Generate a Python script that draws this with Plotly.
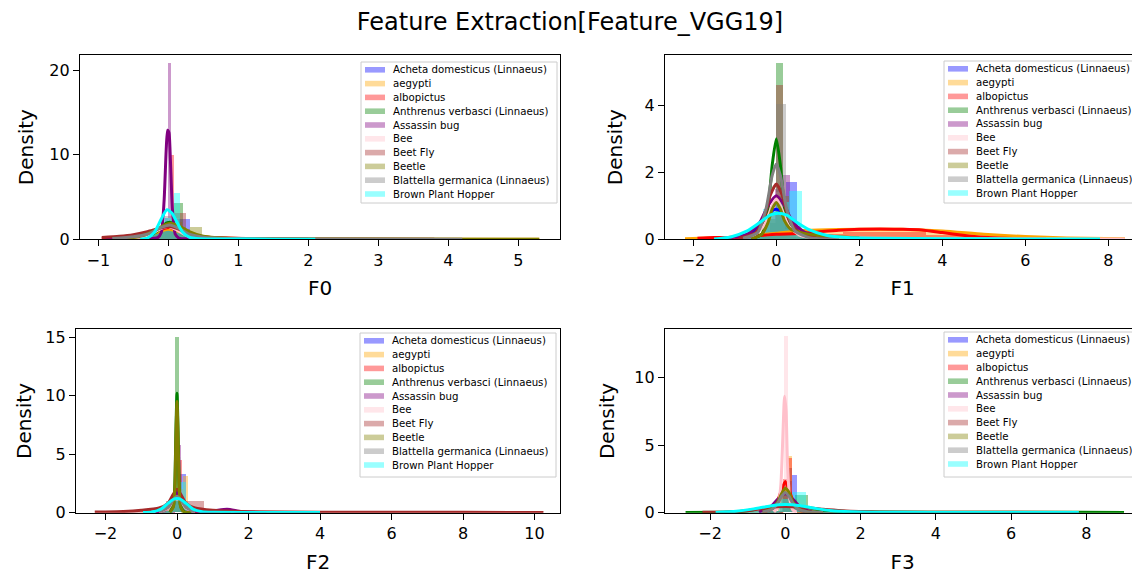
import plotly.graph_objects as go

# page body has an 8px margin: the figure is sized/positioned to compensate
OFF = 8
W, H = 1140 - OFF, 576 - OFF

classes = ["Acheta domesticus (Linnaeus)", "aegypti", "albopictus",
           "Anthrenus verbasci (Linnaeus)", "Assassin bug", "Bee", "Beet Fly",
           "Beetle", "Blattella germanica (Linnaeus)", "Brown Plant Hopper"]
colors = ["#0000ff", "#ffa500", "#ff0000", "#008000", "#800080",
          "#ffc0cb", "#a52a2a", "#808000", "#808080", "#00ffff"]
features = ["F0", "F1", "F2", "F3"]

# ---------------- F0 ----------------
F0_edges = [
    [-0.9, -0.26, -0.07, 0.12, 0.31, 0.5, 2.0],
    [-0.8, -0.2, 0.0, 0.2, 0.4, 5.3],
    [-0.9, -0.3, -0.1, 0.034, 0.08, 0.3, 2.0],
    [-0.5, -0.18, -0.05, 0.08, 0.21, 0.34, 1.5],
    [-0.9, -0.05, -0.01, 0.034, 0.08, 1.0],
    [-0.6, -0.15, 0.0, 0.15, 0.4],
    [-0.95, -0.22, -0.06, 0.1, 0.26, 0.42, 3.8],
    [-0.54, -0.37, -0.2, -0.03, 0.14, 0.31, 0.48, 5.3],
    [-0.8, -0.2, -0.05, 0.1, 0.25, 0.4, 4.2],
    [-0.4, -0.28, -0.1, 0.08, 0.17, 0.26, 2.1],
]
F0_heights = [
    [0.12, 0.8, 1.6, 2.4, 0.4, 0.1],
    [0.1, 1.0, 2.0, 0.5, 0.08],
    [0.18, 0.5, 1.5, 10.0, 0.6, 0.1],
    [0.1, 1.0, 2.2, 4.3, 0.6, 0.1],
    [0.05, 2.5, 20.8, 1.0, 0.08],
    [0.1, 1.5, 2.5, 0.4],
    [0.2, 1.0, 1.8, 3.1, 0.4, 0.12],
    [0.3, 0.6, 1.3, 1.4, 1.2, 1.4, 0.12],
    [0.15, 1.0, 2.8, 1.5, 0.4, 0.12],
    [0.1, 0.6, 2.5, 5.5, 0.8, 0.08],
]
F0_kde_x = [
    [-0.9, -0.5, -0.3, -0.15, 0, 0.15, 0.3, 0.5, 1, 2],
    [-0.9, -0.5, -0.25, 0, 0.25, 0.5, 1, 2, 3.5, 5.3],
    [-0.95, -0.6, -0.3, -0.1, 0.02, 0.15, 0.3, 0.6, 1.2, 2.0],
    [-0.5, -0.3, -0.15, -0.05, 0.03, 0.12, 0.25, 0.4, 0.7, 1.5],
    [-0.9, -0.3, -0.15, -0.1, -0.06, -0.03, -0.01, 0.01, 0.03, 0.06, 0.1, 0.15, 0.3, 1.0],
    [-0.6, -0.3, -0.1, 0, 0.1, 0.3, 0.6],
    [-0.95, -0.7, -0.5, -0.3, -0.1, 0.02, 0.15, 0.3, 0.6, 1.5, 3.8],
    [-0.6, -0.4, -0.2, -0.05, 0.03, 0.15, 0.3, 0.5, 0.8, 2, 5.3],
    [-0.8, -0.5, -0.3, -0.1, 0.02, 0.15, 0.3, 0.5, 1, 2.5, 4.2],
    [-0.4, -0.3, -0.2, -0.1, -0.02, 0.05, 0.1, 0.2, 0.3, 0.45, 0.8, 1.5, 2.1],
]
F0_kde_y = [
    [0.05, 0.2, 0.5, 1.1, 1.6, 1.2, 0.6, 0.25, 0.08, 0.02],
    [0.05, 0.2, 0.6, 1.2, 0.7, 0.3, 0.1, 0.04, 0.02, 0.01],
    [0.1, 0.3, 0.7, 1.2, 1.4, 1.1, 0.6, 0.2, 0.06, 0.02],
    [0.05, 0.3, 1.0, 1.8, 2.0, 1.6, 0.7, 0.2, 0.05, 0.02],
    [0.02, 0.05, 0.2, 0.8, 4.5, 10.5, 12.9, 12.6, 9.5, 3.5, 0.6, 0.15, 0.05, 0.02],
    [0.05, 0.4, 1.3, 1.5, 1.2, 0.3, 0.05],
    [0.2, 0.35, 0.55, 0.9, 1.35, 1.5, 1.2, 0.6, 0.2, 0.05, 0.02],
    [0.1, 0.35, 1.0, 1.7, 1.9, 1.6, 0.9, 0.35, 0.12, 0.04, 0.01],
    [0.1, 0.3, 0.6, 1.4, 1.7, 1.3, 0.6, 0.25, 0.08, 0.03, 0.01],
    [0.02, 0.15, 0.8, 2.4, 3.5, 3.1, 2.4, 0.9, 0.25, 0.06, 0.03, 0.02, 0.01],
]

# ---------------- F1 ----------------
F1_edges = [
    [-1.0, -0.28, -0.02, 0.24, 0.5, 0.76, 2.0],
    [-2.2, -1.2, -0.2, 0.8, 1.8, 2.8, 3.8, 4.8, 5.8, 6.8, 7.8, 8.4],
    [-1.96, -1.56, -0.2, 0.26, 0.6, 1.6, 2.6, 3.6, 4.6, 5.6],
    [-0.48, -0.16, 0.0, 0.16, 0.32, 0.48, 1.5],
    [-1.0, -0.2, -0.02, 0.16, 0.34, 0.52, 1.5],
    [-0.6, -0.2, 0.0, 0.2, 0.6, 7.8, 8.4],
    [-0.9, -0.16, 0.0, 0.16, 0.32, 1.5],
    [-0.6, -0.3, 0.0, 0.3, 0.6, 2.0],
    [-0.9, -0.24, 0.0, 0.24, 0.48, 1.5],
    [-1.5, -0.31, 0.0, 0.31, 0.62, 0.93, 7.8],
]
F1_heights = [
    [0.08, 0.5, 1.3, 1.72, 0.3, 0.05],
    [0.03, 0.08, 0.2, 0.3, 0.32, 0.3, 0.2, 0.12, 0.06, 0.03, 0.05],
    [0.08, 0, 0.15, 0.05, 0.15, 0.22, 0.22, 0.12, 0.04],
    [0.1, 0.5, 5.25, 0.5, 0.3, 0.05],
    [0.08, 0.6, 1.5, 1.92, 0.5, 0.08],
    [0.1, 1.0, 1.4, 0.3, 0, 0.08],
    [0.08, 0.8, 4.6, 0.6, 0.08],
    [0.1, 0.6, 1.3, 0.4, 0.08],
    [0.06, 0.8, 4.04, 0.4, 0.06],
    [0.08, 0.9, 1.1, 1.45, 0.3, 0.04],
]
F1_kde_x = [
    [-1.0, -0.6, -0.3, -0.1, 0, 0.15, 0.35, 0.6, 1.0, 1.8],
    [-2.2, -1.2, -0.5, 0, 0.5, 1.0, 2.0, 3.0, 4.0, 5.0, 6.0, 7.0, 8.4],
    [-1.9, -1.5, -1.0, -0.5, 0, 0.5, 1.0, 1.5, 2.0, 2.5, 3.0, 3.5, 4.0, 4.5, 5.0, 5.5, 6.5],
    [-0.6, -0.35, -0.2, -0.1, 0, 0.1, 0.2, 0.3, 0.45, 0.6, 0.9, 1.5],
    [-1.2, -0.7, -0.4, -0.2, 0, 0.2, 0.4, 0.7, 1.2, 2.0],
    [-0.6, -0.3, -0.1, 0, 0.1, 0.3, 0.6, 2, 5, 8.4],
    [-0.9, -0.5, -0.3, -0.15, 0, 0.15, 0.3, 0.5, 0.9, 1.5],
    [-0.6, -0.35, -0.2, -0.1, 0, 0.1, 0.2, 0.35, 0.6, 1.0, 2.0],
    [-0.8, -0.45, -0.25, -0.1, 0, 0.1, 0.25, 0.45, 0.8, 1.5],
    [-1.5, -1.1, -0.7, -0.4, -0.15, 0.05, 0.25, 0.5, 0.8, 1.2, 1.7, 2.5, 4, 6, 7.8],
]
F1_kde_y = [
    [0.03, 0.2, 0.55, 0.85, 0.9, 0.8, 0.45, 0.2, 0.07, 0.02],
    [0.02, 0.05, 0.12, 0.18, 0.25, 0.28, 0.3, 0.3, 0.25, 0.15, 0.08, 0.04, 0.02],
    [0.03, 0.05, 0.06, 0.1, 0.15, 0.17, 0.22, 0.27, 0.3, 0.31, 0.3, 0.28, 0.2, 0.12, 0.06, 0.03, 0.01],
    [0.02, 0.15, 0.9, 2.2, 3.0, 2.2, 0.9, 0.45, 0.3, 0.15, 0.05, 0.02],
    [0.03, 0.15, 0.5, 1.0, 1.3, 1.0, 0.5, 0.2, 0.08, 0.03],
    [0.05, 0.4, 1.0, 1.2, 1.0, 0.4, 0.1, 0.03, 0.02, 0.01],
    [0.03, 0.2, 0.6, 1.3, 1.65, 1.3, 0.6, 0.25, 0.06, 0.02],
    [0.02, 0.15, 0.5, 0.9, 1.1, 0.9, 0.55, 0.3, 0.2, 0.12, 0.04],
    [0.03, 0.2, 0.9, 1.9, 2.25, 1.9, 0.9, 0.25, 0.05, 0.01],
    [0.01, 0.07, 0.25, 0.5, 0.72, 0.78, 0.72, 0.5, 0.28, 0.12, 0.05, 0.03, 0.02, 0.01, 0.01],
]

# ---------------- F2 ----------------
F2_edges = [
    [-0.5, -0.1, 0.07, 0.24, 0.41, 1.5],
    [-0.5, -0.1, 0.04, 0.18, 0.32, 0.46, 1.5],
    [-0.6, -0.06, 0.04, 0.14, 0.24, 1.5],
    [-0.5, -0.15, -0.05, 0.05, 0.15, 0.25, 1.5],
    [-0.6, -0.05, 0.02, 0.1, 0.18, 1.2, 1.6, 2.2],
    [-0.4, -0.1, 0.1, 0.4],
    [-2.3, -0.3, 0.2, 0.75, 4.0, 10.25],
    [-0.3, -0.12, -0.04, 0.04, 0.12, 0.3],
    [-0.4, -0.1, 0.1, 0.4],
    [-0.95, -0.1, 0.08, 0.26, 0.44, 4.0],
]
F2_heights = [
    [0.1, 1.5, 3.3, 0.3, 0.05],
    [0.08, 1.0, 2.0, 3.1, 0.3, 0.05],
    [0.08, 2.0, 4.5, 0.6, 0.06],
    [0.06, 1.5, 14.95, 1.0, 0.3, 0.05],
    [0.08, 2.0, 5.8, 0.8, 0.06, 0.3, 0.06],
    [0.1, 1.5, 0.2],
    [0.08, 1.0, 0.94, 0.08, 0.05],
    [0.1, 2.0, 9.0, 2.0, 0.1],
    [0.1, 2.0, 0.3],
    [0.08, 1.5, 2.6, 0.4, 0.05],
]
F2_kde_x = [
    [-0.5, -0.25, -0.1, 0, 0.1, 0.25, 0.5, 1],
    [-0.5, -0.25, -0.1, 0.02, 0.15, 0.3, 0.5, 1],
    [-0.6, -0.3, -0.12, 0, 0.12, 0.3, 0.6, 1.2],
    [-0.2, -0.1, -0.06, -0.03, 0, 0.03, 0.06, 0.1, 0.2, 0.4],
    [-0.6, -0.3, -0.15, 0, 0.15, 0.3, 0.6, 1.0, 1.4, 1.8, 2.5],
    [-0.5, -0.25, -0.1, 0, 0.1, 0.25, 0.5],
    [-2.3, -1.5, -1.0, -0.5, -0.25, -0.1, 0, 0.1, 0.25, 0.5, 1.0, 2, 4, 6, 8, 10.25],
    [-0.2, -0.1, -0.06, -0.03, 0, 0.03, 0.06, 0.1, 0.2, 0.4],
    [-0.5, -0.25, -0.1, 0, 0.1, 0.25, 0.5],
    [-0.95, -0.7, -0.45, -0.25, -0.1, 0, 0.1, 0.25, 0.45, 0.7, 1.0, 2.0, 4.0],
]
F2_kde_y = [
    [0.05, 0.5, 1.4, 1.8, 1.4, 0.5, 0.08, 0.02],
    [0.05, 0.4, 1.1, 1.5, 1.2, 0.5, 0.1, 0.02],
    [0.05, 0.4, 1.2, 1.6, 1.2, 0.4, 0.08, 0.02],
    [0.05, 0.6, 2.5, 7.0, 10.2, 7.0, 2.5, 0.6, 0.08, 0.02],
    [0.02, 0.3, 1.0, 1.6, 1.0, 0.3, 0.1, 0.15, 0.3, 0.1, 0.02],
    [0.05, 0.4, 1.0, 1.2, 1.0, 0.4, 0.05],
    [0.05, 0.1, 0.2, 0.4, 0.8, 1.6, 2.0, 1.6, 0.8, 0.4, 0.2, 0.08, 0.04, 0.03, 0.03, 0.02],
    [0.05, 0.5, 2.2, 6.5, 9.5, 6.5, 2.2, 0.5, 0.06, 0.02],
    [0.05, 0.45, 1.1, 1.4, 1.1, 0.45, 0.05],
    [0.01, 0.06, 0.3, 0.8, 1.15, 1.22, 1.15, 0.8, 0.3, 0.08, 0.03, 0.02, 0.01],
]

# ---------------- F3 ----------------
F3_edges = [
    [-0.5, -0.05, 0.07, 0.19, 0.31, 0.43, 1.5],
    [-0.5, -0.03, 0.08, 0.19, 0.3, 1.5],
    [-0.6, -0.07, 0.06, 0.19, 0.32, 1.5],
    [-2.65, -0.1, 0.25, 0.6, 0.95, 9.0],
    [-0.5, -0.15, 0.1, 0.5],
    [-0.3, -0.14, -0.04, 0.06, 0.16, 0.4],
    [-2.2, -0.05, 0.07, 0.19, 0.31, 7.8],
    [-0.5, -0.2, 0.05, 0.3, 0.6],
    [-0.5, -0.1, 0.1, 0.5],
    [-1.85, -0.18, 0.19, 0.56, 0.93, 7.8],
]
F3_heights = [
    [0.1, 1.5, 2.3, 2.8, 0.4, 0.05],
    [0.1, 2.0, 4.2, 0.5, 0.05],
    [0.1, 2.5, 4.05, 0.5, 0.05],
    [0.03, 1.0, 1.3, 0.2, 0.03],
    [0.1, 1.2, 0.2],
    [0.1, 1.5, 13.0, 1.0, 0.1],
    [0.04, 2.0, 3.3, 0.6, 0.04],
    [0.1, 1.3, 1.0, 0.1],
    [0.1, 1.5, 0.2],
    [0.03, 1.0, 1.5, 0.2, 0.03],
]
F3_kde_x = [
    [-0.6, -0.35, -0.2, -0.1, 0, 0.1, 0.2, 0.35, 0.6, 1.0],
    [-0.6, -0.35, -0.2, -0.1, 0.02, 0.12, 0.22, 0.35, 0.6, 1.0],
    [-0.6, -0.35, -0.2, -0.1, 0, 0.1, 0.2, 0.35, 0.6, 1.0],
    [-2.65, -1.5, -1.0, -0.5, 0, 0.5, 1.0, 1.5, 2.5, 5.0, 7.8, 9.0],
    [-0.7, -0.4, -0.2, 0, 0.2, 0.4, 0.7],
    [-0.3, -0.2, -0.12, -0.06, -0.02, 0.02, 0.06, 0.12, 0.2, 0.3],
    [-2.2, -1.5, -1.0, -0.5, 0, 0.5, 1.0, 1.5, 2.5, 5.0, 7.8],
    [-0.6, -0.35, -0.2, -0.1, 0, 0.1, 0.2, 0.35, 0.6, 1.0],
    [-0.6, -0.35, -0.2, -0.1, 0, 0.1, 0.2, 0.35, 0.6, 1.0],
    [-1.85, -1.3, -0.8, -0.4, 0, 0.4, 0.8, 1.3, 2.0, 3.0, 5.0, 7.8],
]
F3_kde_y = [
    [0.05, 0.3, 0.8, 1.3, 1.7, 1.4, 0.8, 0.3, 0.08, 0.02],
    [0.05, 0.3, 0.7, 1.2, 1.6, 1.4, 0.8, 0.3, 0.08, 0.02],
    [0.05, 0.3, 0.9, 1.7, 2.3, 1.7, 0.9, 0.35, 0.08, 0.02],
    [0.02, 0.05, 0.15, 0.4, 0.55, 0.4, 0.2, 0.1, 0.05, 0.03, 0.03, 0.02],
    [0.05, 0.4, 1.0, 1.4, 1.0, 0.4, 0.05],
    [0.05, 0.4, 2.0, 6.0, 8.6, 7.5, 3.5, 1.0, 0.2, 0.05],
    [0.03, 0.06, 0.15, 0.35, 0.45, 0.38, 0.25, 0.15, 0.06, 0.03, 0.02],
    [0.05, 0.3, 0.8, 1.4, 1.8, 1.5, 0.8, 0.3, 0.08, 0.02],
    [0.05, 0.25, 0.7, 1.2, 1.5, 1.2, 0.7, 0.25, 0.06, 0.02],
    [0.02, 0.1, 0.3, 0.5, 0.6, 0.52, 0.32, 0.13, 0.05, 0.03, 0.02, 0.02],
]

x_ticks = [[-1, 0, 1, 2, 3, 4, 5], [-2, 0, 2, 4, 6, 8], [-2, 0, 2, 4, 6, 8, 10], [-2, 0, 2, 4, 6, 8]]
y_ticks = [[0, 10, 20], [0, 2, 4], [0, 5, 10, 15], [0, 5, 10]]
x_ranges = [[-1.261, 5.596], [-2.682, 8.764], [-2.825, 10.713], [-3.196, 9.424]]
y_ranges = [[0, 21.8], [0, 5.5], [0, 15.67], [0, 13.55]]

all_edges = [F0_edges, F1_edges, F2_edges, F3_edges]
all_heights = [F0_heights, F1_heights, F2_heights, F3_heights]
all_kx = [F0_kde_x, F1_kde_x, F2_kde_x, F3_kde_x]
all_ky = [F0_kde_y, F1_kde_y, F2_kde_y, F3_kde_y]

# panel geometry in screen pixels: left, right, top, bottom
panels_px = [(80, 560, 55, 239.3), (665, 1140, 55, 239.3),
             (76, 560, 329.3, 512.7), (665, 1140, 329.3, 512.7)]
legend_px = [(361, 62, 557, 203), (944, 61, 1138, 203),
             (360, 333, 556, 477), (944, 332, 1138, 477)]
ytitle_standoff = [10, 16, 8, 14]


def px(x):
    return (x - OFF) / W


def py(y):
    return 1 - (y - OFF) / H


fig = go.Figure()
FONT = "DejaVu Sans"

for p in range(4):
    xa = "x" if p == 0 else f"x{p+1}"
    ya = "y" if p == 0 else f"y{p+1}"
    for c in range(10):
        e = all_edges[p][c]
        h = all_heights[p][c]
        centers = [(e[i] + e[i + 1]) / 2 for i in range(len(h))]
        widths = [e[i + 1] - e[i] for i in range(len(h))]
        fig.add_trace(go.Bar(x=centers, y=h, width=widths, xaxis=xa, yaxis=ya,
                             marker=dict(color=colors[c], line=dict(width=0)),
                             opacity=0.4, name=classes[c], showlegend=False,
                             hoverinfo="skip"))
        fig.add_trace(go.Scatter(x=all_kx[p][c], y=all_ky[p][c], xaxis=xa, yaxis=ya,
                                 mode="lines", line=dict(color=colors[c], width=3,
                                                         shape="spline", smoothing=0.6),
                                 name=classes[c], showlegend=False, hoverinfo="skip"))

layout = dict(width=W, height=H, autosize=False, barmode="overlay", bargap=0,
              margin=dict(l=0, r=0, t=0, b=0, autoexpand=False),
              plot_bgcolor="white", paper_bgcolor="white",
              font=dict(family=FONT, color="black"),
              title=dict(text="Feature Extraction[Feature_VGG19]", x=px(570), xanchor="center",
                         y=py(22), yanchor="middle", font=dict(size=24, family=FONT)))

for p in range(4):
    l, r, t, b = panels_px[p]
    xk = "xaxis" if p == 0 else f"xaxis{p+1}"
    yk = "yaxis" if p == 0 else f"yaxis{p+1}"
    ya = "y" if p == 0 else f"y{p+1}"
    xa = "x" if p == 0 else f"x{p+1}"
    layout[xk] = dict(domain=[px(l), min(px(r), 1.0)], anchor=ya, range=x_ranges[p],
                      tickvals=x_ticks[p], ticks="outside", ticklen=6, tickwidth=1.2,
                      tickcolor="black", showline=True, linecolor="black", linewidth=1.2,
                      mirror=True, showgrid=False, zeroline=False, automargin=False,
                      tickfont=dict(size=16, family=FONT),
                      title=dict(text=features[p], font=dict(size=20, family=FONT), standoff=12))
    layout[yk] = dict(domain=[py(b), py(t)], anchor=xa, range=y_ranges[p],
                      tickvals=y_ticks[p], ticks="outside", ticklen=6, tickwidth=1.2,
                      tickcolor="black", showline=True, linecolor="black", linewidth=1.2,
                      mirror=(p % 2 == 0), showgrid=False, zeroline=False, automargin=False,
                      tickfont=dict(size=16, family=FONT),
                      title=dict(text="Density", font=dict(size=20, family=FONT),
                                 standoff=ytitle_standoff[p]))

shapes = []
annotations = []
for p in range(4):
    bl, bt, br, bb = legend_px[p]
    shapes.append(dict(type="rect", xref="paper", yref="paper",
                       x0=px(bl), x1=px(br), y0=py(bb), y1=py(bt),
                       fillcolor="rgba(255,255,255,0.8)",
                       line=dict(color="#cccccc", width=1), layer="above"))
    for c in range(10):
        yc = bt + 7.8 + c * 13.8
        shapes.append(dict(type="rect", xref="paper", yref="paper",
                           x0=px(bl + 4), x1=px(bl + 24), y0=py(yc + 2.8), y1=py(yc - 2.8),
                           fillcolor=colors[c], opacity=0.4, line=dict(width=0),
                           layer="above"))
        annotations.append(dict(text=classes[c], xref="paper", yref="paper",
                                x=px(bl + 30), y=py(yc), xanchor="left", yanchor="middle",
                                showarrow=False, font=dict(size=10.2, family=FONT, color="black")))

layout["shapes"] = shapes
layout["annotations"] = annotations
fig.update_layout(**layout)
fig.write_html("out.html")
